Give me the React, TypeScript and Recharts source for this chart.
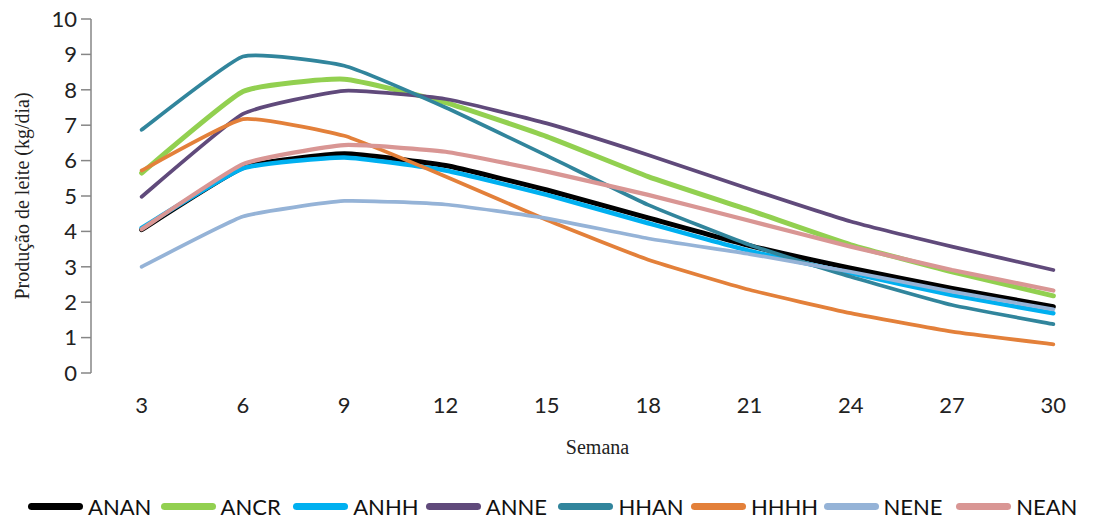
import React from "react";
import { LineChart, Line, XAxis, YAxis } from "recharts";

const weeks = [3, 6, 9, 12, 15, 18, 21, 24, 27, 30];

const ANAN = [4.05, 5.8, 6.19, 5.86, 5.17, 4.38, 3.6, 2.96, 2.39, 1.87];
const ANCR = [5.65, 7.95, 8.3, 7.64, 6.68, 5.55, 4.6, 3.62, 2.86, 2.18];
const ANHH = [4.1, 5.78, 6.09, 5.72, 5.03, 4.23, 3.45, 2.82, 2.2, 1.69];
const ANNE = [4.98, 7.32, 7.97, 7.74, 7.05, 6.16, 5.2, 4.28, 3.57, 2.91];
const HHAN = [6.87, 8.94, 8.68, 7.5, 6.14, 4.75, 3.62, 2.72, 1.92, 1.38];
const HHHH = [5.72, 7.17, 6.7, 5.55, 4.32, 3.2, 2.35, 1.69, 1.17, 0.81];
const NENE = [3.0, 4.42, 4.86, 4.76, 4.37, 3.8, 3.36, 2.86, 2.3, 1.8];
const NEAN = [4.06, 5.9, 6.44, 6.25, 5.69, 5.03, 4.3, 3.57, 2.91, 2.33];

const yTicks = [0, 1, 2, 3, 4, 5, 6, 7, 8, 9, 10];
const boundaryTicks = [1.5, 4.5, 7.5, 10.5, 13.5, 16.5, 19.5, 22.5, 25.5, 28.5, 31.5];

const SERIES = [
  { key: "ANAN", values: ANAN, color: "#000000", width: 5 },
  { key: "ANCR", values: ANCR, color: "#92D050", width: 5 },
  { key: "ANHH", values: ANHH, color: "#00B0F0", width: 4.5 },
  { key: "ANNE", values: ANNE, color: "#604A7B", width: 3.75 },
  { key: "HHAN", values: HHAN, color: "#31859C", width: 3.75 },
  { key: "HHHH", values: HHHH, color: "#E3803A", width: 3.75 },
  { key: "NENE", values: NENE, color: "#95B3D7", width: 3.75 },
  { key: "NEAN", values: NEAN, color: "#D99694", width: 4.25 },
];

const data = weeks.map((w, i) => {
  const row: Record<string, number> = { week: w };
  SERIES.forEach((s) => (row[s.key] = s.values[i]));
  return row;
});

// lightly smoothed line, cardinal spline with high tension
function excelSmooth(context: any) {
  let pts: number[][] = [];
  const k = 1 / 14;
  return {
    areaStart() {},
    areaEnd() {},
    lineStart() {
      pts = [];
    },
    point(x: number, y: number) {
      pts.push([+x, +y]);
    },
    lineEnd() {
      if (!pts.length) return;
      context.moveTo(pts[0][0], pts[0][1]);
      for (let i = 0; i < pts.length - 1; i++) {
        const p0 = pts[i - 1] || pts[i];
        const p1 = pts[i];
        const p2 = pts[i + 1];
        const p3 = pts[i + 2] || p2;
        context.bezierCurveTo(
          p1[0] + (p2[0] - p0[0]) * k,
          p1[1] + (p2[1] - p0[1]) * k,
          p2[0] - (p3[0] - p1[0]) * k,
          p2[1] - (p3[1] - p1[1]) * k,
          p2[0],
          p2[1]
        );
      }
    },
  };
}

const AXIS = "#868686";
const SANS = "Lato, 'Open Sans', sans-serif";
const SERIF = "'Liberation Serif', 'Times New Roman', serif";
const TICK_FONT = { fontSize: 22, fill: "#222", fontFamily: SANS };

export default function App() {
  return (
    <div
      style={{
        position: "absolute",
        left: 0,
        top: 0,
        width: 1105,
        height: 523,
        background: "#fff",
      }}
    >
      <LineChart
        width={1105}
        height={460}
        data={data}
        margin={{ top: 19, right: 1, left: 0, bottom: 0 }}
      >
        <XAxis
          xAxisId="marks"
          type="number"
          dataKey="week"
          domain={[1.5, 31.5]}
          ticks={boundaryTicks}
          tick={false}
          height={0}
          tickSize={10}
          axisLine={{ stroke: AXIS, strokeWidth: 1.5 }}
          tickLine={{ stroke: AXIS, strokeWidth: 1.5 }}
        />
        <XAxis
          xAxisId="labels"
          type="number"
          dataKey="week"
          domain={[1.5, 31.5]}
          ticks={weeks}
          height={87}
          axisLine={false}
          tickLine={false}
          tickSize={10}
          tickMargin={14}
          tick={TICK_FONT}
          label={{
            value: "Semana",
            position: "insideBottom",
            offset: 6,
            style: { fontSize: 20, fill: "#222", fontFamily: SERIF },
          }}
        />
        <YAxis
          width={91}
          domain={[0, 10]}
          ticks={yTicks}
          interval={0}
          tickSize={10}
          tickMargin={4}
          tick={TICK_FONT}
          axisLine={{ stroke: AXIS, strokeWidth: 1.5 }}
          tickLine={{ stroke: AXIS, strokeWidth: 1.5 }}
          label={{
            value: "Produção de leite (kg/dia)",
            angle: -90,
            position: "insideLeft",
            offset: 22,
            style: {
              textAnchor: "middle",
              fontSize: 20,
              fill: "#222",
              fontFamily: SERIF,
            },
          }}
        />
        {SERIES.map((s) => (
          <Line
            key={s.key}
            xAxisId="labels"
            type={excelSmooth as any}
            dataKey={s.key}
            stroke={s.color}
            strokeWidth={s.width}
            strokeLinecap="round"
            strokeLinejoin="round"
            dot={false}
            activeDot={false}
            isAnimationActive={false}
          />
        ))}
      </LineChart>

      {/* legend */}
      <div
        style={{
          position: "absolute",
          left: 28,
          top: 493,
          display: "flex",
          alignItems: "center",
          fontFamily: SANS,
          fontSize: 22,
          color: "#111",
        }}
      >
        {SERIES.map((s) => (
          <div key={s.key} style={{ display: "flex", alignItems: "center", width: 132.6 }}>
            <span
              style={{
                display: "inline-block",
                width: 55,
                height: 7,
                borderRadius: 3.5,
                background: s.color,
                marginRight: 5,
              }}
            />
            <span>{s.key}</span>
          </div>
        ))}
      </div>
    </div>
  );
}
